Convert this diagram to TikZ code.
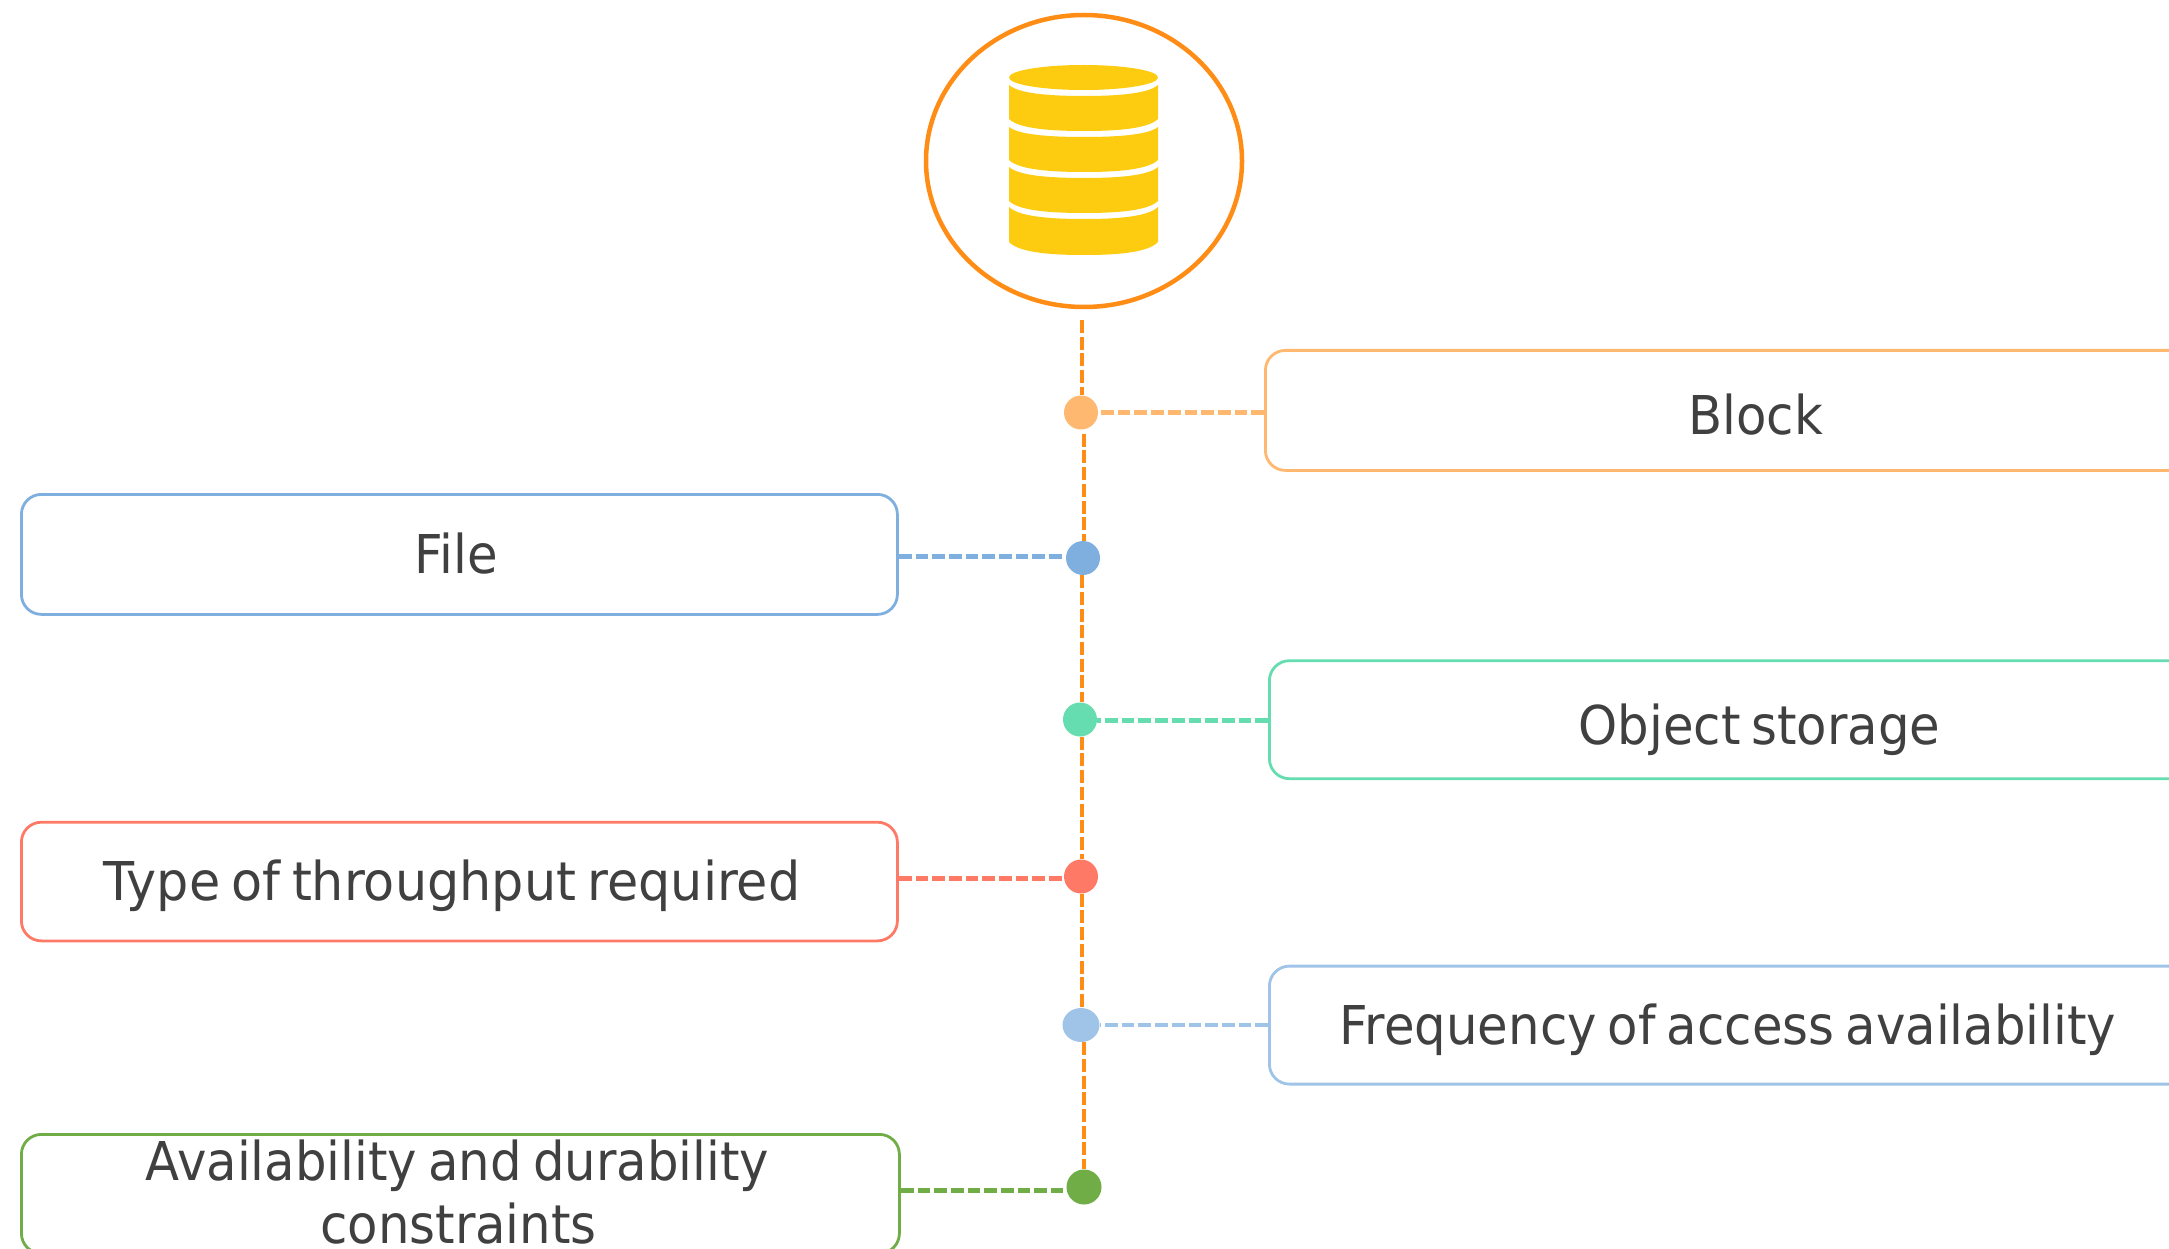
\documentclass[tikz,border=0pt]{standalone}
\usepackage{fontspec}
\usetikzlibrary{shapes.geometric}
\setmainfont{DejaVu Sans}[FakeStretch=0.93,WordSpace=0.7]
\definecolor{ink}{HTML}{404040}
\definecolor{ringc}{HTML}{FF8C14}
\definecolor{gold}{HTML}{FDCB10}
\definecolor{cBlock}{HTML}{FFB870}
\definecolor{cFile}{HTML}{7FAFDF}
\definecolor{cObj}{HTML}{66DDB0}
\definecolor{cType}{HTML}{FF7A66}
\definecolor{cFreq}{HTML}{A0C4E8}
\definecolor{cAvail}{HTML}{70AD47}
\tikzset{
  card/.style={draw=#1,line width=2.8pt,rounded corners=20pt,fill=white,inner sep=0pt,anchor=north west},
  lbl/.style={anchor=base,inner sep=0pt,align=center,text=ink,font=\fontsize{53.5}{63}\selectfont},
  dotnode/.style={fill=#1,draw=none,circle,inner sep=0pt,minimum size=34pt},
  spine/.style={draw=ringc,line width=4.5pt,dash pattern=on 13pt off 3.7pt},
  tie/.style={draw=#1,line width=4.2pt,dash pattern=on 12.7pt off 4pt},
}
\newcommand{\band}[4]{% top edge y, top centre y, bottom edge y, bottom centre y
  \fill[gold] (1009,#1) .. controls (1020,#2-1) and (1060,#2) .. (1084,#2)
    .. controls (1108,#2) and (1147,#2-1) .. (1158,#1) -- (1158,#3)
    .. controls (1147,#4-1) and (1108,#4) .. (1084,#4)
    .. controls (1060,#4) and (1020,#4-1) .. (1009,#3) -- cycle;}
\begin{document}
\begin{tikzpicture}[x=1pt,y=-1pt]
\useasboundingbox (0,0) rectangle (2169,1249);
\clip (0,0) rectangle (2169,1249);
% round badge with the database icon
\node[draw=ringc,line width=4.5pt,ellipse,minimum width=316pt,minimum height=292pt,inner sep=0pt] (ring) at (1084,161) {};
\fill[gold] (1083.5,77.5) ellipse [x radius=74.5,y radius=12.5];
\band{85}{96}{119}{131}
\band{127}{137}{160}{172}
\band{167}{178}{201}{213}
\band{207}{219}{242}{255}
% cards
\node[card=cBlock,minimum width=1000pt,minimum height=120pt] (block) at (1264,349) {};
\node[card=cFile,minimum width=876pt,minimum height=120pt] (file) at (20,493) {};
\node[card=cObj,minimum width=1000pt,minimum height=118pt] (obj) at (1268,659.3) {};
\node[card=cType,minimum width=876pt,minimum height=118.7pt] (type) at (20,820.8) {};
\node[card=cFreq,minimum width=1000pt,minimum height=118pt] (freq) at (1268,964.7) {};
\node[card=cAvail,minimum width=878pt,minimum height=119pt] (avail) at (20,1133) {};
% labels
\node[lbl] (tBlock) at (1755.5,434) {Block};
\node[lbl] (tFile) at (456,573) {File};
\node[lbl] (tObj) at (1759.5,744) {Object storage};
\node[lbl] (tType) at (452,900) {\addfontfeature{FakeStretch=0.95}Type of throughput required};
\node[lbl] (tFreq) at (1728,1044) {Frequency of access availability};
\node[lbl] (tAvail1) at (457.5,1180) {Availability and durability};
\node[lbl] (tAvail2) at (458.5,1243) {constraints};
% dots
\node[dotnode=cBlock] (d1) at (1081,412.5) {};
\node[dotnode=cFile] (d2) at (1083,558) {};
\node[dotnode=cObj] (d3) at (1080,719.5) {};
\node[dotnode=cType] (d4) at (1081,876.5) {};
\node[dotnode=cFreq,ellipse,minimum width=37pt,minimum height=34pt] (d5) at (1081,1025) {};
\node[dotnode=cAvail,minimum size=35pt] (d6) at (1084,1187) {};
% spine
\coordinate (start) at (1082,320);
\draw[spine] (start) -- ([xshift=1pt]d1.north);
\draw[spine] ([xshift=3pt,yshift=-4pt]d1.south) -- ([xshift=1pt]d2.north);
\draw[spine] ([xshift=-1pt]d2.south) -- ([xshift=2pt]d3.north);
\draw[spine] ([xshift=2pt]d3.south) -- ([xshift=1pt]d4.north);
\draw[spine] ([xshift=1pt]d4.south) -- ([xshift=1pt]d5.north);
\draw[spine] ([xshift=3pt]d5.south) -- (d6.north);
% ties
\draw[tie=cBlock] (d1.east -| block.west) -- (d1.east);
\draw[tie=cFile] ([yshift=1.5pt]d2.west -| file.east) -- ([yshift=1.5pt,xshift=-3pt]d2.west);
\draw[tie=cObj] ([yshift=-1pt]d3.east -| obj.west) -- ([yshift=-1pt]d3.east);
\draw[tie=cType] ([yshift=-2pt]d4.west -| type.east) -- ([yshift=-2pt]d4.west);
\draw[tie=cFreq] (d5.east -| freq.west) -- (d5.east);
\draw[tie=cAvail] ([yshift=-3.5pt]d6.west -| avail.east) -- ([yshift=-3.5pt,xshift=-3pt]d6.west);
\end{tikzpicture}
\end{document}
